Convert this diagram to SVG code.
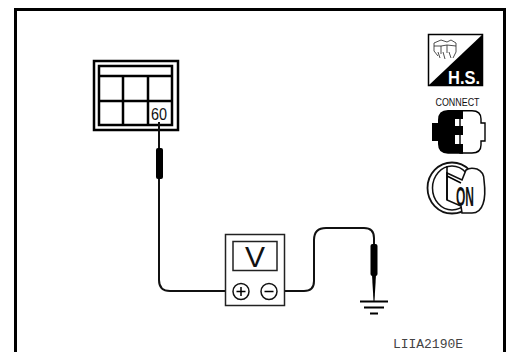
<svg xmlns="http://www.w3.org/2000/svg" width="506" height="352" viewBox="0 0 506 352">
<style>
.k{fill:none;stroke:#000}
.w{fill:none;stroke:#111;stroke-width:2}
.t{font-family:"Liberation Sans",Arial,sans-serif;fill:#111}
.s{fill:#000}
</style>
<rect width="506" height="352" fill="#fff"/>
<path id="frame" d="M15.500 352V9.500H504.500V352" fill="none" stroke="#000" stroke-width="3"/>
<g id="connector-block">
<rect x="94" y="61" width="84" height="69" class="k" stroke-width="2.500"/>
<rect x="99" y="66" width="73" height="59" class="k" stroke-width="2.500"/>
<path d="M99 76H172M99 101H172M123 76V125M148 76V125" class="k" stroke-width="2.500"/>
<text x="159" y="119.500" class="t" font-size="17" text-anchor="middle" textLength="16" lengthAdjust="spacingAndGlyphs">60</text>
</g>
<g id="connectors">
<path class="w" d="M159 122V148M159 178V280Q159 291 170 291H233"/>
<path class="w" d="M277 291H304Q314 291 314 281V240Q314 228 326 228H364Q374 228 374 238V246"/>
</g>
<g id="probe-1"><rect x="156" y="148" width="7" height="31" rx="2" class="s"/></g>
<g id="probe-2"><rect x="370.500" y="244" width="7" height="32" rx="2" class="s"/><path class="s" d="M372 275H376L374.500 301H373.500Z"/></g>
<g id="ground"><path d="M360 301.500H388M364 307.500H384M370 313.500H378" class="k" stroke-width="2"/></g>
<g id="voltmeter">
<rect x="225.500" y="234.500" width="59" height="71" fill="#fff" stroke="#222" stroke-width="1.500"/>
<rect x="233" y="241.500" width="44" height="29" fill="#fff" stroke="#222" stroke-width="1.500"/>
<text x="255" y="267" class="t" font-size="30" text-anchor="middle">V</text>
<circle cx="241" cy="291.500" r="8" fill="#fff" stroke="#111" stroke-width="1.500"/>
<circle cx="269" cy="291.500" r="8" fill="#fff" stroke="#111" stroke-width="1.500"/>
<path d="M236.500 291.500H245.500M241 287V296M264.500 291.500H273.500" class="k" stroke-width="1.500"/>
</g>
<g id="icon-hs">
<rect x="428.500" y="34.500" width="54" height="51" fill="#fff" stroke="#000" stroke-width="1.500"/>
<path class="s" d="M483 34V86H428Z"/>
<text x="464" y="84" font-size="18" font-weight="bold" text-anchor="middle" textLength="32" lengthAdjust="spacingAndGlyphs" style="fill:#fff;font-family:'Liberation Sans',Arial,sans-serif">H.S.</text>
<path d="M434 43L441 40L447 42L451 40L456 43V52L453 58M434 43V51L438 56M434 46H441L447 45L456 46M441 46V54M447 45V53M438 52L440 58M443 52L445 59M449 52L451 58" fill="none" stroke="#222" stroke-width="0.800"/>
</g>
<g id="icon-connect">
<text x="457.500" y="105.500" class="t" font-size="11" text-anchor="middle" textLength="44" lengthAdjust="spacingAndGlyphs">CONNECT</text>
<path d="M460 110.700H472Q481 110.700 481 119V123H485V141H481V145Q481 153 472 153H460Z" fill="#fff" stroke="#000" stroke-width="1.400"/>
<path class="s" d="M463 110V119H455V126H463V135H455V144H463V153.700H448Q438 153.700 438 144V141H432V123H438V120Q438 110 448 110Z"/>
</g>
<g id="icon-key">
<ellipse cx="452" cy="188" rx="24.500" ry="25.500" fill="#fff" stroke="#111" stroke-width="1.800"/>
<ellipse cx="452" cy="188" rx="19.500" ry="22" fill="#fff" stroke="#111" stroke-width="1.500"/>
<path d="M447 173L462 180L466 170Q470 167 477 169Q484 172 484 180Q486 196 483 204Q480 213 472 213L462 213L461 206L447 200Z" fill="#fff" stroke="#111" stroke-width="1.600"/>
<path d="M447 166V200M447 176L461 183" class="k" stroke-width="1.500"/>
<text x="465" y="206" font-size="27" font-weight="bold" text-anchor="middle" textLength="18" lengthAdjust="spacingAndGlyphs" class="t">ON</text>
</g>
<text id="code" x="393" y="348" font-family="Liberation Mono,monospace" font-size="13" fill="#444" textLength="70">LIIA2190E</text>
</svg>
